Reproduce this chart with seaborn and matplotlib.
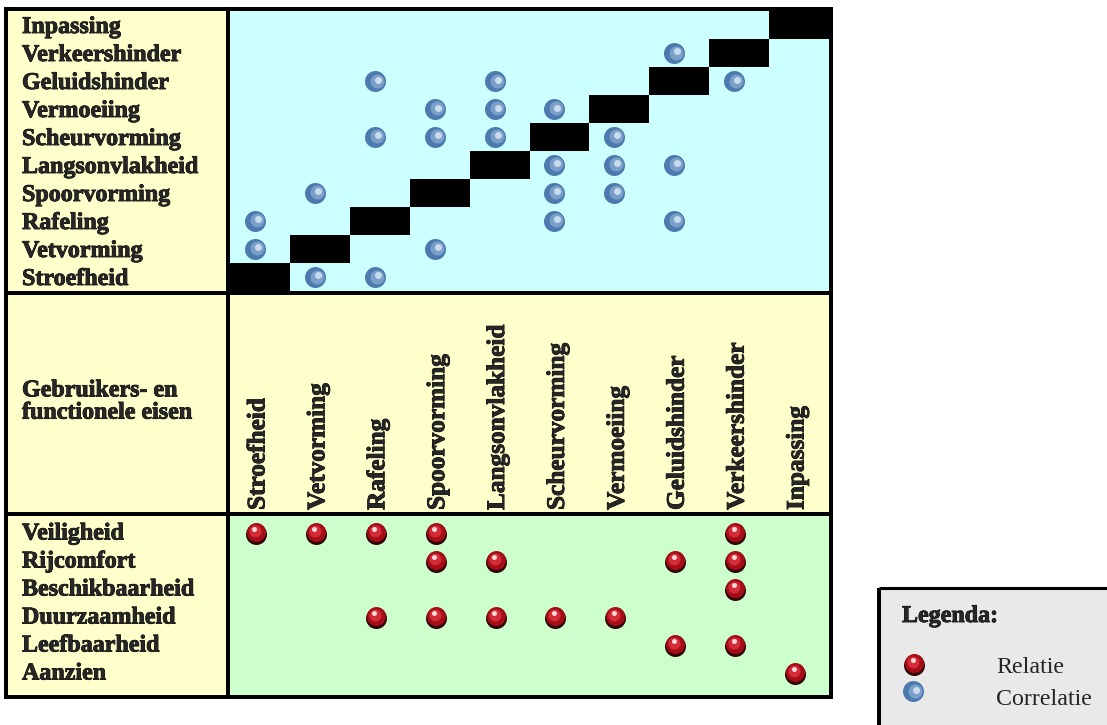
import matplotlib.pyplot as plt
import matplotlib.patheffects as pe
import matplotlib.transforms as mtransforms
from matplotlib.colors import ListedColormap
from matplotlib.patches import Rectangle
import numpy as np
import pandas as pd
import seaborn as sns

columns = ["Stroefheid", "Vetvorming", "Rafeling", "Spoorvorming", "Langsonvlakheid",
           "Scheurvorming", "Vermoeiing", "Geluidshinder", "Verkeershinder", "Inpassing"]
top_rows = ["Inpassing", "Verkeershinder", "Geluidshinder", "Vermoeiing", "Scheurvorming",
            "Langsonvlakheid", "Spoorvorming", "Rafeling", "Vetvorming", "Stroefheid"]
correlations = {
    "Verkeershinder": ["Geluidshinder"],
    "Geluidshinder": ["Rafeling", "Langsonvlakheid", "Verkeershinder"],
    "Vermoeiing": ["Spoorvorming", "Langsonvlakheid", "Scheurvorming"],
    "Scheurvorming": ["Rafeling", "Spoorvorming", "Langsonvlakheid", "Vermoeiing"],
    "Langsonvlakheid": ["Scheurvorming", "Vermoeiing", "Geluidshinder"],
    "Spoorvorming": ["Vetvorming", "Scheurvorming", "Vermoeiing"],
    "Rafeling": ["Stroefheid", "Scheurvorming", "Geluidshinder"],
    "Vetvorming": ["Stroefheid", "Spoorvorming"],
    "Stroefheid": ["Vetvorming", "Rafeling"],
}
bottom_rows = ["Veiligheid", "Rijcomfort", "Beschikbaarheid", "Duurzaamheid", "Leefbaarheid", "Aanzien"]
relations = {
    "Veiligheid": ["Stroefheid", "Vetvorming", "Rafeling", "Spoorvorming", "Verkeershinder"],
    "Rijcomfort": ["Spoorvorming", "Langsonvlakheid", "Geluidshinder", "Verkeershinder"],
    "Beschikbaarheid": ["Verkeershinder"],
    "Duurzaamheid": ["Rafeling", "Spoorvorming", "Langsonvlakheid", "Scheurvorming", "Vermoeiing"],
    "Leefbaarheid": ["Geluidshinder", "Verkeershinder"],
    "Aanzien": ["Inpassing"],
}
middle_title = "Gebruikers- en\nfunctionele eisen"
legend_title = "Legenda:"
legend_labels = ["Relatie", "Correlatie"]

W, H = 1107, 725
FS = 17.3
sns.set_style("white")
plt.rcParams['font.family'] = ['Liberation Serif', 'DejaVu Serif']
heavy = [pe.withStroke(linewidth=0.6, foreground='black')]
bold = dict(fontsize=FS, fontweight='bold', path_effects=heavy)

fig = plt.figure(figsize=(W / 100, H / 100), dpi=100)


def px_axes(x0, y0, x1, y1, z):
    ax = fig.add_axes([x0 / W, 1 - y1 / H, (x1 - x0) / W, (y1 - y0) / H], zorder=z)
    ax.set_facecolor('none')
    return ax


blue_layers = [(0, 0, 21, '#4d7aae'), (2, -0.5, 14, '#7aa0ca'), (3, -1.5, 7, '#c9dbec')]
red_layers = [(0, 1.5, 21, '#300305'), (0, 0, 19, '#a50d17'), (-1, -1.5, 12, '#d32c37'),
              (-1.5, -3.5, 5, '#ffd8d8')]


def pearl(ax, x, y, layers, ux, uy):
    x = np.asarray(x, dtype=float)
    y = np.asarray(y, dtype=float)
    for dx, dy, d, c in layers:
        sns.scatterplot(x=x + dx * ux, y=y + dy * uy, s=(d * 0.72) ** 2, color=c,
                        linewidth=0, ax=ax, legend=False)


# background fills
canvas = px_axes(0, 0, W, H, 0)
canvas.add_patch(Rectangle((6, 9), 825, 688, facecolor='#ffffcc', edgecolor='none'))
canvas.add_patch(Rectangle((228, 514), 603, 183, facecolor='#ccffcc', edgecolor='none'))
canvas.add_patch(Rectangle((879, 587.5), 240, 150, facecolor='#e9e9e9', edgecolor='none'))

# top matrix
ax_top = px_axes(230, 11, 829, 291, 1)
diag = pd.DataFrame([[1 if r == c else 0 for c in columns] for r in top_rows],
                    index=top_rows, columns=columns)
sns.heatmap(diag, ax=ax_top, cmap=ListedColormap(['#ccffff', '#000000']), vmin=0, vmax=1,
            cbar=False, xticklabels=False, yticklabels=False)
corr = pd.DataFrame([(r, c) for r, cs in correlations.items() for c in cs], columns=['row', 'col'])
cx = corr['col'].map(columns.index).to_numpy() + 0.5 - 5 / 59.9
cy = corr['row'].map(top_rows.index).to_numpy() + 0.5
pearl(ax_top, cx, cy, blue_layers, 1 / 59.9, 1 / 28)
ax_top.set_xlim(0, 10)
ax_top.set_ylim(10, 0)
ax_top.set_axis_off()

tr_top = mtransforms.blended_transform_factory(canvas.transData, ax_top.transData)
for i, name in enumerate(top_rows):
    ax_top.text(22, i + 0.5 + 8 / 28, name, transform=tr_top, ha='left', va='baseline', **bold)

# middle header
ax_mid = px_axes(230, 295, 829, 512, 1)
ax_mid.set_xlim(0, 10)
ax_mid.set_ylim(512, 295)
ax_mid.set_axis_off()
for j, name in enumerate(columns):
    ax_mid.text(j + 0.5 - 2 / 59.9, 510, name, rotation=90, ha='center', va='bottom',
                fontsize=18.2, fontweight='bold', path_effects=heavy)
canvas.text(22, 402, middle_title, ha='left', va='center', linespacing=1.08, **bold)

# bottom matrix
ax_bot = px_axes(230, 516, 829, 695, 1)
rel = pd.DataFrame([(r, c) for r, cs in relations.items() for c in cs], columns=['row', 'col'])
rx = rel['col'].map(columns.index).to_numpy() + 0.5 - 4 / 59.9
ry = rel['row'].map(bottom_rows.index).to_numpy() + 0.5
pearl(ax_bot, rx, ry, red_layers, 1 / 59.9, 1 / 28)
ax_bot.set_xlim(0, 10)
ax_bot.set_ylim((695 - 518) / 28, (516 - 518) / 28)
ax_bot.set_axis_off()

tr_bot = mtransforms.blended_transform_factory(canvas.transData, ax_bot.transData)
for i, name in enumerate(bottom_rows):
    ax_bot.text(22, i + 0.5 + 7.5 / 28, name, transform=tr_bot, ha='left', va='baseline', **bold)

# legend
canvas.text(902, 622, legend_title, ha='left', va='baseline', **bold)
pearl(canvas, [914], [663], red_layers, 1, 1)
pearl(canvas, [913], [691], blue_layers, 1, 1)
canvas.text(996, 673, legend_labels[0], fontsize=FS, ha='left', va='baseline')
canvas.text(996, 705, legend_labels[1], fontsize=FS, ha='left', va='baseline')
canvas.set_xlim(0, W)
canvas.set_ylim(H, 0)
canvas.set_axis_off()

# borders
frame = px_axes(0, 0, W, H, 3)
frame.add_patch(Rectangle((6, 9), 825, 688, fill=False, edgecolor='black', linewidth=2.88,
                          joinstyle='miter'))
frame.vlines(228, 9, 697, color='black', linewidth=2.88)
frame.hlines([293, 514], 6, 831, color='black', linewidth=2.88)
frame.vlines(879, 587.5, H + 5, color='black', linewidth=2.88)
frame.hlines(587.5, 879, W + 5, color='black', linewidth=2.2)
frame.set_xlim(0, W)
frame.set_ylim(H, 0)
frame.set_axis_off()

fig.savefig('out.png', dpi=100)
